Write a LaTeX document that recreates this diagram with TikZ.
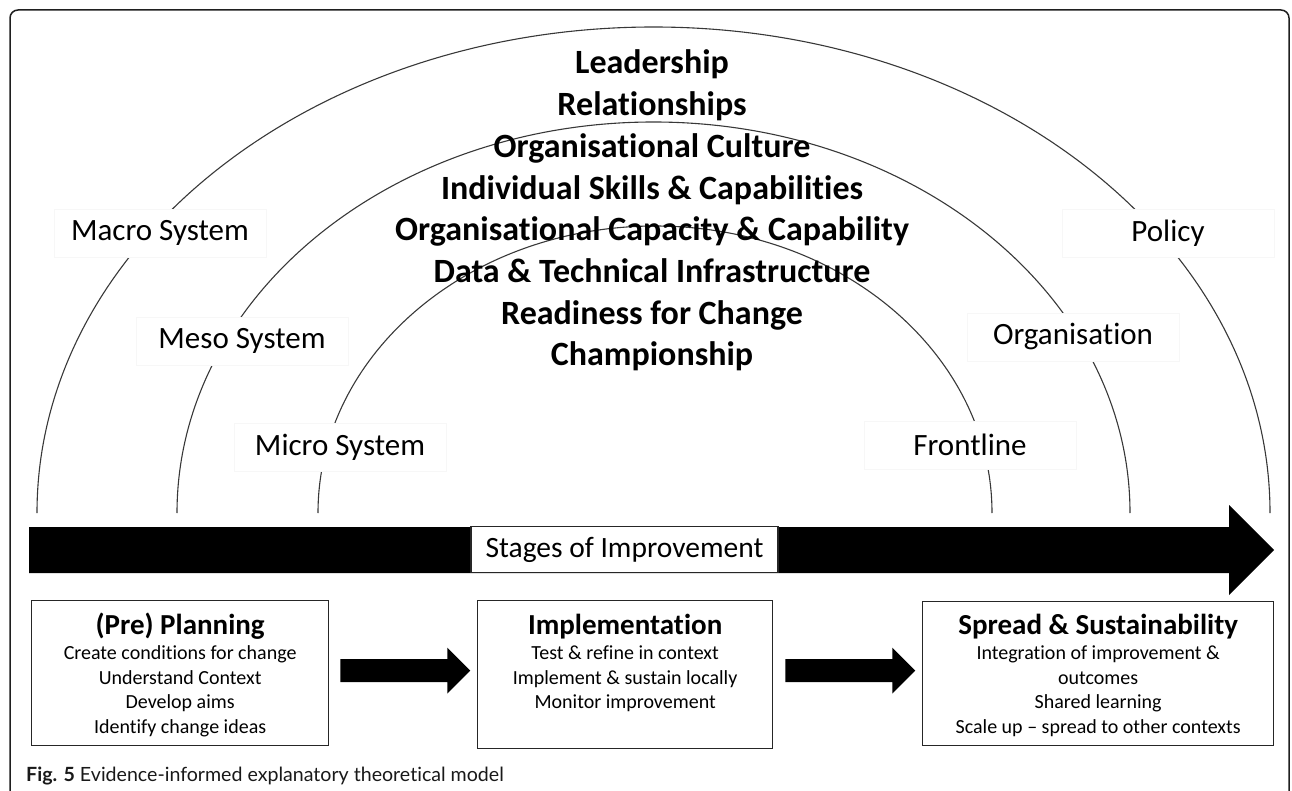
\documentclass[tikz,border=0pt]{standalone}
\usepackage{fontspec}
\setmainfont{Carlito}[Ligatures=NoCommon]
\newfontfamily\capfont{Lato}[Ligatures=NoCommon]
\usetikzlibrary{calc}
\tikzset{
  arcline/.style={line width=1.1pt, draw=black!78},
  lvl/.style={fill=white, draw=black!3, inner sep=0pt, minimum width=212pt, minimum height=48pt, font=\fontsize{31}{31}\selectfont},
  factor/.style={anchor=base, inner sep=0pt, font=\bfseries\fontsize{34}{34}\selectfont},
  stagebox/.style={draw=black!85, line width=1.3pt, anchor=north west, inner sep=0pt},
  ttl/.style={anchor=base, inner sep=0pt, font=\bfseries\fontsize{29}{29}\selectfont},
  ln/.style={anchor=base, inner sep=0pt, font=\fontsize{20}{20}\selectfont},
  blockarr/.pic={\fill[black] (0,-11.5) -- (107,-11.5) -- (107,-23) -- (130,0) -- (107,23) -- (107,11.5) -- (0,11.5) -- cycle;}
}
\begin{document}
\begin{tikzpicture}[x=1pt,y=-1pt]
\useasboundingbox (0,0) rectangle (1292,791);
% frame
\draw[line width=1.5pt, draw=black!88, rounded corners=8pt] (10,800) -- (10,10) -- (1289,10) -- (1289,800);
% arcs
\draw[arcline] (37,513) arc[start angle=180, end angle=0, x radius=616.5pt, y radius=486pt];
\draw[arcline] (177,513) arc[start angle=180, end angle=0, x radius=476.5pt, y radius=391pt];
\draw[arcline] (318,513) arc[start angle=180, end angle=0, x radius=337pt, y radius=287pt];
% level labels
\node[lvl] (macro) at (160,233) {Macro System};
\node[lvl] (policy) at (1168,233) {Policy};
\node[lvl] (meso) at (242,341) {Meso System};
\node[lvl] (orgn) at (1073,337) {Organisation};
\node[lvl] (micro) at (340,447) {Micro System};
\node[lvl] (front) at (970,445) {Frontline};
% factors
\foreach \t [count=\i] in {Leadership, Relationships, Organisational Culture, Individual Skills \& Capabilities, Organisational Capacity \& Capability, Data \& Technical Infrastructure, Readiness for Change, Championship}
  \node[factor] (f\i) at (652,{74+41.7*(\i-1)}) {\t};
% big arrow
\fill[black] (29,527) -- (1229,527) -- (1229,505) -- (1274,550) -- (1229,595) -- (1229,573) -- (29,573) -- cycle;
\node[draw=black!85, line width=1.3pt, fill=white, minimum width=307pt, minimum height=46pt, inner sep=0pt, font=\fontsize{29.5}{29.5}\selectfont] (stages) at (624.5,549.5) {Stages of Improvement};
% stage boxes
\node[stagebox, minimum width=297pt, minimum height=145pt] (plan) at (31,600) {};
\node[stagebox, minimum width=295pt, minimum height=148pt] (impl) at (477,600) {};
\node[stagebox, minimum width=351pt, minimum height=144pt] (spread) at (922,601) {};
% plan text
\node[ttl] (plant) at ($(plan.north)+(0,34.5)$) {(Pre) Planning};
\node[ln] (plan1) at ($(plan.north)+(0,59.5)$) {Create conditions for change};
\node[ln] (plan2) at ($(plan.north)+(0,84.5)$) {Understand Context};
\node[ln] (plan3) at ($(plan.north)+(0,108.5)$) {Develop aims};
\node[ln] (plan4) at ($(plan.north)+(0,133.5)$) {Identify change ideas};
% impl text
\node[ttl] (implt) at ($(impl.north)+(0,34.5)$) {Implementation};
\node[ln] (impl1) at ($(impl.north)+(0,59.5)$) {Test \& refine in context};
\node[ln] (impl2) at ($(impl.north)+(0,84.5)$) {Implement \& sustain locally};
\node[ln] (impl3) at ($(impl.north)+(0,108.5)$) {Monitor improvement};
% spread text
\node[ttl] (spreadt) at ($(spread.north)+(0,33.5)$) {Spread \& Sustainability};
\node[ln] (spread1) at ($(spread.north)+(0,58.5)$) {Integration of improvement \&};
\node[ln] (spread2) at ($(spread.north)+(0,83.5)$) {outcomes};
\node[ln] (spread3) at ($(spread.north)+(0,107.5)$) {Shared learning};
\node[ln] (spread4) at ($(spread.north)+(0,132.5)$) {Scale up -- spread to other contexts};
% small arrows between boxes
\coordinate (a1) at ($(plan.east)+(11,-2.5)$);
\coordinate (a2) at ($(impl.east)+(12,-4)$);
\pic at (a1) {blockarr};
\pic at (a2) {blockarr};
% caption
\node[anchor=base west, inner sep=0pt, font=\capfont\fontsize{19.6}{19.6}\selectfont, text=black!90] (cap) at (26,781) {\textbf{Fig. 5} Evidence-informed explanatory theoretical model};
\end{tikzpicture}
\end{document}
